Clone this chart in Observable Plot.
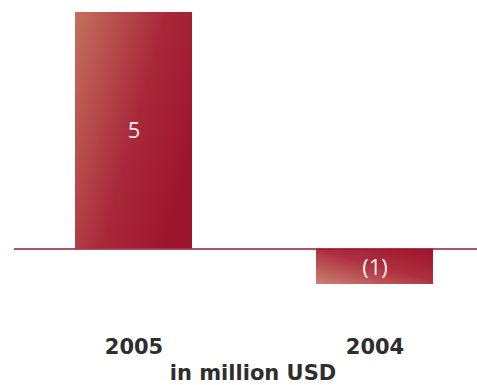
<!DOCTYPE html>
<html>
<head>
<meta charset="utf-8">
<script src="https://cdn.jsdelivr.net/npm/d3@7"></script>
<script src="https://cdn.jsdelivr.net/npm/@observablehq/plot@0.6"></script>
<style>
  html, body { margin: 0; padding: 0; background: #fff; }
</style>
</head>
<body>
<div id="chart"></div>
<script>
const years = ["2005", "2004"];
// bar lengths (labels are rounded)
const values = [5, -0.75];
const valueLabels = ["5", "(1)"];
const unitLabel = "in million USD";

const data = years.map((year, i) => ({year, value: values[i], label: valueLabels[i]}));

const defs = () => {
  const d = d3.create("svg:defs");
  const g1 = d.append("linearGradient").attr("id", "g2005")
    .attr("x1", 0).attr("y1", 0).attr("x2", 1).attr("y2", 0.55);
  g1.append("stop").attr("offset", "0%").attr("stop-color", "#c4705f");
  g1.append("stop").attr("offset", "60%").attr("stop-color", "#a8283a");
  g1.append("stop").attr("offset", "100%").attr("stop-color", "#9e162e");
  const g2 = d.append("linearGradient").attr("id", "g2004")
    .attr("x1", 0).attr("y1", 1).attr("x2", 0.9).attr("y2", 0);
  g2.append("stop").attr("offset", "0%").attr("stop-color", "#cc8171");
  g2.append("stop").attr("offset", "55%").attr("stop-color", "#ad2f3f");
  g2.append("stop").attr("offset", "100%").attr("stop-color", "#9e162e");
  return d.node();
};

const labelStyle = {x: "year", y: d => d.value / 2, text: "label", fill: "#fbeeee", fontSize: 22, fontFamily: "Open Sans"};

const chart = Plot.plot({
  width: 477,
  height: 385,
  marginLeft: 14,
  marginRight: 0,
  marginTop: 12,
  marginBottom: 101,
  style: {fontFamily: "DejaVu Sans", color: "#2e2e2e", background: "#fff"},
  x: {domain: years, paddingInner: 0.515, paddingOuter: 0.218, align: 0.58, axis: null},
  y: {domain: [-0.75, 5], axis: null},
  marks: [
    defs,
    Plot.barY(data, {x: "year", y: "value", filter: d => d.year === "2005", fill: "url(#g2005)"}),
    Plot.barY(data, {x: "year", y: "value", filter: d => d.year === "2004", fill: "url(#g2004)"}),
    Plot.ruleY([0], {stroke: "#9a1a2e", strokeWidth: 1.6}),
    Plot.text(data, {...labelStyle, filter: d => d.value >= 0}),
    Plot.text(data, {...labelStyle, filter: d => d.value < 0, dy: 1}),
    Plot.axisX({tickSize: 0, tickPadding: 55, fontSize: 21, fontWeight: "bold", label: null}),
    Plot.text([unitLabel], {frameAnchor: "bottom", dy: 95, dx: 7, fontSize: 21, fontWeight: "bold", fill: "#2e2e2e"})
  ]
});
document.getElementById("chart").append(chart);
</script>
</body>
</html>
